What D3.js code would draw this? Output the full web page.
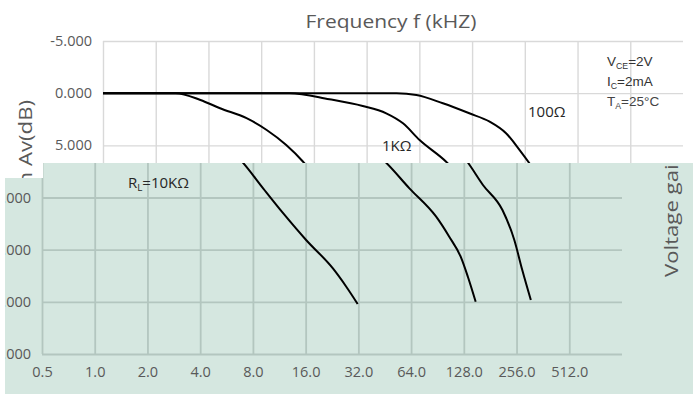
<!DOCTYPE html>
<html>
<head>
<meta charset="utf-8">
<script src="https://cdn.jsdelivr.net/npm/d3@7"></script>
<style>
  body { margin: 0; background: #fff; }
  svg { display: block; }
</style>
</head>
<body>
<div id="chart"></div>
<script>

// tick values
var freq_ticks = [0.5, 1, 2, 4, 8, 16, 32, 64, 128, 256, 512];
var gain_ticks = [-5, 0, 5, 10, 15, 20, 25];

// curves (kHz, dB)
var rl_10k_freq = [0.5, 1, 1.3, 1.8, 2.33, 3.3, 4.3, 5.56, 6.94, 9.15, 11.9, 16.1, 22.9, 27.3, 31.7];
var rl_10k_gain = [0, 0, 0, 0.65, 1.45, 2.4, 3.53, 4.97, 6.57, 9.12, 11.5, 14.07, 16.8, 18.55, 20.2];

var rl_1k_freq = [0.5, 2, 5.8, 9.8, 15.2, 20.7, 25.8, 32.1, 45.5, 62.6, 89, 105.7, 123, 135, 149.6];
var rl_1k_gain = [0, 0, 0, 0.58, 1.23, 1.93, 2.89, 4.49, 6.57, 9.12, 11.84, 13.76, 15.7, 17.6, 20.0];

var rl_100_freq = [0.5, 4, 23.7, 30.8, 43.6, 61.7, 80.6, 100, 119.6, 136, 164.6, 212.7, 248.6, 276, 309];
var rl_100_gain = [0, 0, 0, 0.17, 0.97, 1.93, 2.73, 3.84, 5.45, 6.72, 8.8, 11.2, 14.07, 16.95, 19.83];

var series_list = [
  {name: "10K", freq: rl_10k_freq, gain: rl_10k_gain},
  {name: "1K", freq: rl_1k_freq, gain: rl_1k_gain},
  {name: "100", freq: rl_100_freq, gain: rl_100_gain}
];

var width = 693, height = 394;
var shift_x = 61;        // the upper half of the picture sits 61px to the right
var cut_y = 163;         // where the green lower half starts
var text_col = "#595959";
var font = "'Open Sans', 'Noto Sans', sans-serif";

var x = d3.scaleLog().base(2).domain([0.5, 1024]).range([42, 622]);
var y = d3.scaleLinear().domain([-5, 25]).range([41, 354]);

var svg = d3.select("#chart").append("svg")
  .attr("width", width)
  .attr("height", height);

var defs = svg.append("defs");

// clip for the upper (white) part
defs.append("clipPath").attr("id", "clip_top")
  .append("path")
  .attr("d", "M0,0 H" + width + " V" + cut_y + " H0 Z M0," + cut_y + " H43 V178 H0 Z");

// shape of the green lower part
var green_d = "M43," + cut_y + " H" + width + " V" + height + " H5 V178 H43 Z";
defs.append("clipPath").attr("id", "clip_bottom")
  .append("path").attr("d", green_d);

var line = d3.line()
  .x(function(d){ return x(d[0]); })
  .y(function(d){ return y(d[1]); })
  .curve(d3.curveMonotoneX);

function drawChart(g, grid_col, grid_w) {

  // horizontal grid + y labels
  var y_axis = g.append("g")
    .attr("transform", "translate(" + x.range()[0] + ",0)")
    .call(d3.axisLeft(y)
      .tickValues(gain_ticks)
      .tickSize(-(x.range()[1] - x.range()[0]))
      .tickPadding(11)
      .tickFormat(function(d){ return d.toFixed(3); }));
  y_axis.select(".domain").remove();

  // vertical grid + x labels
  var x_axis = g.append("g")
    .attr("transform", "translate(0," + y(25) + ")")
    .call(d3.axisBottom(x)
      .tickValues(freq_ticks)
      .tickSize(-(y(25) - y(-5)))
      .tickPadding(13)
      .tickFormat(function(d){ return d.toFixed(1); }));
  x_axis.select(".domain").remove();

  g.selectAll(".tick line")
    .attr("stroke", grid_col)
    .attr("stroke-width", grid_w);
  g.selectAll(".tick text")
    .attr("fill", text_col)
    .style("font-family", font)
    .style("font-size", "14.5px");

  g.selectAll(".curve")
    .data(series_list)
    .enter()
    .append("path")
      .attr("class", "curve")
      .attr("fill", "none")
      .attr("stroke", "#000")
      .attr("stroke-width", 2)
      .attr("stroke-linejoin", "round")
      .attr("d", function(s){ return line(s.freq.map(function(f, i){ return [f, s.gain[i]]; })); });
}

// rotated y title; the two halves of the picture show it at different places
function yTitle(g, baseline, pos_y, anchor) {
  g.append("text")
    .attr("transform", "translate(" + baseline + "," + pos_y + ") rotate(-90)")
    .attr("text-anchor", anchor)
    .attr("fill", text_col)
    .attr("textLength", 198)
    .attr("lengthAdjust", "spacingAndGlyphs")
    .style("font-family", font)
    .style("font-size", "18px")
    .text("Voltage gain Av(dB)");
}

// upper layer
var top_layer = svg.append("g").attr("clip-path", "url(#clip_top)");
top_layer.append("rect").attr("width", width).attr("height", height).attr("fill", "#fff");
var top_chart = top_layer.append("g").attr("transform", "translate(" + shift_x + ",0)");
drawChart(top_chart, "#d9d9d9", 1.4);
yTitle(top_layer, 32, 100, "end");

// lower layer
var bot_layer = svg.append("g").attr("clip-path", "url(#clip_bottom)");
bot_layer.append("path").attr("d", green_d).attr("fill", "#d5e7e0");
var bot_chart = bot_layer.append("g");
drawChart(bot_chart, "#b3c6bf", 1.8);
yTitle(bot_layer, 678, 277, "start");

// title
svg.append("text")
  .attr("x", 391).attr("y", 28)
  .attr("text-anchor", "middle")
  .attr("fill", text_col)
  .attr("textLength", 171)
  .attr("lengthAdjust", "spacingAndGlyphs")
  .style("font-family", font)
  .style("font-size", "19px")
  .text("Frequency f (kHZ)");

// annotations
function subLabel(px, py, main, sub, rest, size, fam, col) {
  var t = svg.append("text")
    .attr("x", px).attr("y", py)
    .attr("fill", col)
    .style("font-family", fam)
    .style("font-size", size + "px");
  t.append("tspan").text(main);
  t.append("tspan").attr("dy", 3).style("font-size", (size * 0.65) + "px").text(sub);
  t.append("tspan").attr("dy", -3).text(rest);
  return t;
}

var cond_font = "'Liberation Sans', Arial, sans-serif";
subLabel(607, 66, "V", "CE", "=2V", 13.5, cond_font, "#333");
subLabel(607, 86, "I", "C", "=2mA", 13.5, cond_font, "#333");
subLabel(607, 106, "T", "A", "=25\u00B0C", 13.5, cond_font, "#444");

svg.append("text")
  .attr("x", 528).attr("y", 117)
  .attr("fill", "#262626")
  .style("font-family", font)
  .style("font-size", "15px")
  .text("100\u03A9");

svg.append("text")
  .attr("x", 382).attr("y", 151)
  .attr("fill", "#262626")
  .style("font-family", font)
  .style("font-size", "15px")
  .text("1K\u03A9");

subLabel(128, 188, "R", "L", "=10K\u03A9", 15, font, "#262626");

</script>
</body>
</html>
